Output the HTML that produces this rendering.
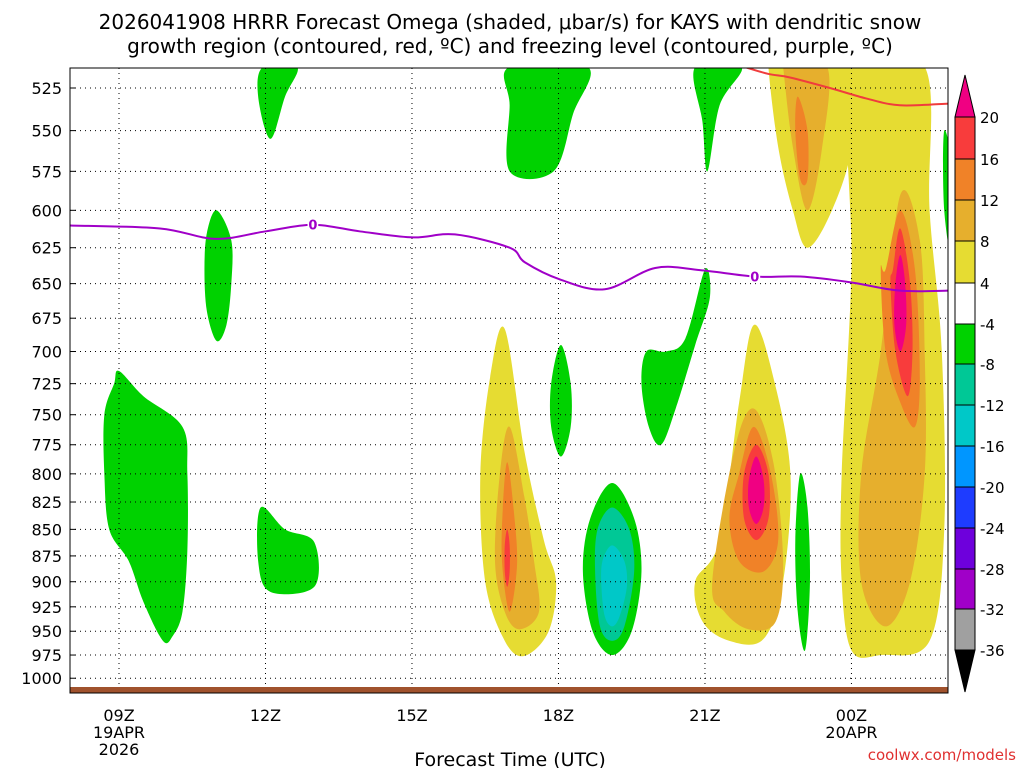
<!DOCTYPE html>
<html><head><meta charset="utf-8"><style>
body{margin:0;background:#fff;width:1024px;height:768px;overflow:hidden;font-family:"Liberation Sans","DejaVu Sans",sans-serif}
svg text{font-family:"DejaVu Sans","Liberation Sans",sans-serif}
</style></head><body>
<svg id="chart" width="1024" height="768" viewBox="0 0 1024 768" xmlns="http://www.w3.org/2000/svg">
<text x="510" y="29" font-size="20" text-anchor="middle" fill="#000">2026041908 HRRR Forecast Omega (shaded, μbar/s) for KAYS with dendritic snow</text>
<text x="510" y="53" font-size="20" text-anchor="middle" fill="#000">growth region (contoured, red, ºC) and freezing level (contoured, purple, ºC)</text>
<clipPath id="pc"><rect x="70" y="68" width="878" height="625"/></clipPath>
<g id="fills" clip-path="url(#pc)"></g>
<g id="grid"></g>
<g id="lines" clip-path="url(#pc)"></g>
<rect x="70" y="687" width="878" height="6" fill="#a0522d"/>
<rect x="70" y="68" width="878" height="625" fill="none" stroke="#000" stroke-width="1"/>
<g id="yaxis"></g><g id="xaxis"></g><g id="cbar"></g>
<text x="510" y="766" font-size="19" text-anchor="middle">Forecast Time (UTC)</text>
<text x="1016" y="760" font-size="15" text-anchor="end" fill="#e03030">coolwx.com/models</text>
</svg>
<script>
const NS="http://www.w3.org/2000/svg";
const pressureTicks=[525,550,575,600,625,650,675,700,725,750,775,800,825,850,875,900,925,950,975,1000];
const hourTicks=[9,12,15,18,21,24];
const hourLabels=["09Z","12Z","15Z","18Z","21Z","00Z"];
const cbarLevels=[20,16,12,8,4,-4,-8,-12,-16,-20,-24,-28,-32,-36];
const cbarColors=["#f00082","#f83c3c","#f08228","#e6af2d","#e6dc32","#ffffff","#00d200","#00c896","#00c8c8","#0096ff","#1e3cff","#6e00dc","#a000c8","#a0a0a0"];
const regionColor=[6,6,6,6,6,6,6,6,6,6, 6,7,8, 4,3,2,1, 4,3,2,1,0, 4,3,2, 4,3,2,1,0];
const regionHours=[
[9.0,9.5,10.3,10.4,10.4,10.3,10.1,9.9,9.5,9.2,8.8,8.7,8.7,8.9],
[11.0,11.3,11.3,11.2,11.0,10.8,10.75,10.8],
[11.95,12.65,12.4,12.1,11.85],
[11.9,12.4,13.0,13.0,12.1,11.85],
[17.0,18.6,18.3,17.9,17.0,17.0],
[18.05,18.25,18.25,18.05,17.85,17.85],
[20.8,21.75,21.3,21.05,20.95],
[21.0,21.1,20.8,20.4,20.1,19.85,19.7,19.8,20.2,20.6],
[22.95,23.1,23.15,23.05,22.9,22.85],
[25.9,26.1,26.1,25.9],
[19.1,19.55,19.7,19.5,19.1,18.7,18.5,18.65],
[19.1,19.45,19.55,19.35,19.1,18.85,18.75,18.8],
[19.1,19.35,19.4,19.25,19.1,18.95,18.88,18.9],
[16.9,17.3,17.7,17.95,17.8,17.3,16.9,16.5,16.4,16.6],
[17.0,17.3,17.5,17.6,17.2,16.9,16.7,16.8],
[16.95,17.1,17.15,17.0,16.85,16.85],
[16.95,17.0,17.0,16.95,16.9,16.9],
[22.0,22.4,22.75,22.6,22.2,21.5,20.95,20.8,21.3,21.7],
[22.0,22.4,22.6,22.45,21.9,21.4,21.15,21.6],
[22.0,22.35,22.5,22.2,21.7,21.5,21.7],
[22.05,22.3,22.3,22.05,21.8,21.8],
[22.05,22.2,22.2,22.05,21.9,21.9],
[22.4,24.0,24.0,23.6,23.1,22.8,22.5,22.3],
[22.6,23.5,23.4,23.1,22.8,22.6],
[22.9,23.1,23.1,22.95,22.85],
[24.0,25.5,25.6,25.85,25.9,25.6,24.6,24.0,23.8,23.8,24.0],
[25.0,25.4,25.5,25.5,25.2,24.7,24.2,24.2,24.6],
[25.0,25.3,25.4,25.3,25.0,24.7,24.6,24.7],
[25.0,25.2,25.25,25.15,24.9,24.8,24.85],
[25.0,25.1,25.12,25.0,24.88,24.9]];
const regionPress=[
[715,735,760,800,870,930,955,960,920,880,850,800,750,725],
[600,620,650,680,692,670,640,615],
[513,513,530,555,530],
[830,850,862,905,910,880],
[513,513,540,575,575,535],
[695,725,760,785,760,725],
[513,513,535,575,545],
[640,660,695,745,775,760,725,700,700,690],
[800,830,900,970,930,860],
[550,580,640,600],
[808,840,890,950,975,950,890,840],
[830,850,890,945,960,945,890,850],
[865,880,905,935,945,935,905,880],
[683,780,860,900,950,976,960,900,800,720],
[760,820,880,930,948,930,880,800],
[790,840,885,930,885,840],
[850,865,890,905,890,865],
[680,720,800,900,958,960,940,900,860,740],
[745,790,880,940,948,930,900,780],
[760,800,860,890,880,840,800],
[775,800,840,860,840,800],
[785,805,830,845,830,805],
[513,513,560,600,625,600,560,513],
[513,513,560,600,560,513],
[530,550,580,580,550],
[513,513,600,700,850,960,975,970,900,800,640],
[590,620,700,800,900,945,900,800,700],
[600,640,720,760,740,700,640,640],
[612,650,700,735,700,650,640],
[630,650,680,700,680,650]];
const frzHours=[8.0,9.84,10.97,11.99,12.97,13.94,15.02,15.88,17.0,17.31,18.03,18.95,19.98,20.9,22.02,22.95,23.97,24.99,26.0];
const frzPress=[610,612,619,614,609.5,614,618,616,625,635,647,654,639,640.5,645,645,649,655,655];
const dgzHours=[21.8,22.3,22.74,23.56,24.3,24.99,25.98];
const dgzPress=[513,517,519,525,531,535,534];

const X=h=>119+(h-9)*48.83;
const Y=p=>88+916*Math.log(p/525);
function el(tag,attrs,parent){const e=document.createElementNS(NS,tag);for(const k in attrs)e.setAttribute(k,attrs[k]);parent.appendChild(e);return e;}
function smoothClosed(pts){const n=pts.length;let d=`M${pts[0][0]},${pts[0][1]}`;for(let i=0;i<n;i++){const p0=pts[(i-1+n)%n],p1=pts[i],p2=pts[(i+1)%n],p3=pts[(i+2)%n];d+=`C${p1[0]+(p2[0]-p0[0])/6},${p1[1]+(p2[1]-p0[1])/6} ${p2[0]-(p3[0]-p1[0])/6},${p2[1]-(p3[1]-p1[1])/6} ${p2[0]},${p2[1]}`;}return d+"Z";}
function smoothOpen(pts){const n=pts.length;let d=`M${pts[0][0]},${pts[0][1]}`;for(let i=0;i<n-1;i++){const p0=pts[Math.max(i-1,0)],p1=pts[i],p2=pts[i+1],p3=pts[Math.min(i+2,n-1)];d+=`C${p1[0]+(p2[0]-p0[0])/6},${p1[1]+(p2[1]-p0[1])/6} ${p2[0]-(p3[0]-p1[0])/6},${p2[1]-(p3[1]-p1[1])/6} ${p2[0]},${p2[1]}`;}return d;}

const fillsG=document.getElementById('fills');
regionHours.forEach((hs,i)=>{
  const pts=hs.map((h,j)=>[X(h),Y(regionPress[i][j])]);
  const e=el('path',{d:smoothClosed(pts),fill:cbarColors[regionColor[i]]},fillsG);
  
  
});

const gridG=document.getElementById('grid'),yax=document.getElementById('yaxis'),xax=document.getElementById('xaxis');
pressureTicks.forEach(p=>{
  const g=el('line',{x1:70,x2:948,y1:Y(p),y2:Y(p),stroke:'#000','stroke-width':1,'stroke-dasharray':'1,4'},gridG);
  
  
  const t=el('text',{x:62,y:Y(p)+6,'font-size':16,'text-anchor':'end'},yax);t.textContent=p;
  
  
  el('line',{x1:70,x2:76,y1:Y(p),y2:Y(p),stroke:'#000'},yax);
});
hourTicks.forEach((h,i)=>{
  const g=el('line',{x1:X(h),x2:X(h),y1:68,y2:693,stroke:'#000','stroke-width':1,'stroke-dasharray':'1,4'},gridG);
  
  
  const t=el('text',{x:X(h),y:721,'font-size':16,'text-anchor':'middle'},xax);t.textContent=hourLabels[i];
  
  
});
[["19APR",9,738],["2026",9,755],["20APR",24,738]].forEach(a=>{const t=el('text',{x:X(a[1]),y:a[2],'font-size':16,'text-anchor':'middle'},xax);t.textContent=a[0];
  
  });

const linesG=document.getElementById('lines');
const fz=el('path',{d:smoothOpen(frzHours.map((h,i)=>[X(h),Y(frzPress[i])])),fill:'none',stroke:'#a000c8','stroke-width':2},linesG);


[[12.97,609.5],[22.02,645]].forEach(a=>{const t=el('text',{x:X(a[0]),y:Y(a[1])+5,'font-size':13,'text-anchor':'middle',fill:'#a000c8','font-weight':'bold',stroke:'#fff','stroke-width':3,'paint-order':'stroke'},linesG);t.textContent='0';
  
  });
const dg=el('path',{d:smoothOpen(dgzHours.map((h,i)=>[X(h),Y(dgzPress[i])])),fill:'none',stroke:'#f03c3c','stroke-width':2},linesG);



const cb=document.getElementById('cbar');
const cy=[117,159,200,241,283,324,364,405,446,487,528,569,609,650];
const cbTop=el('polygon',{points:`955,${cy[0]} 965,75 975,${cy[0]}`,fill:cbarColors[0],stroke:'#000'},cb);


for(let i=0;i<cbarLevels.length-1;i++){
  const r=el('rect',{x:955,y:cy[i],width:20,height:cy[i+1]-cy[i],fill:cbarColors[i+1],stroke:'#000'},cb);
  
  
}
const cbBot=el('polygon',{points:`955,650 965,692 975,650`,fill:'#000',stroke:'#000'},cb);


cbarLevels.forEach((v,i)=>{const t=el('text',{x:980,y:cy[i]+6,'font-size':15},cb);t.textContent=v;
  
  });
</script>
</body></html>
